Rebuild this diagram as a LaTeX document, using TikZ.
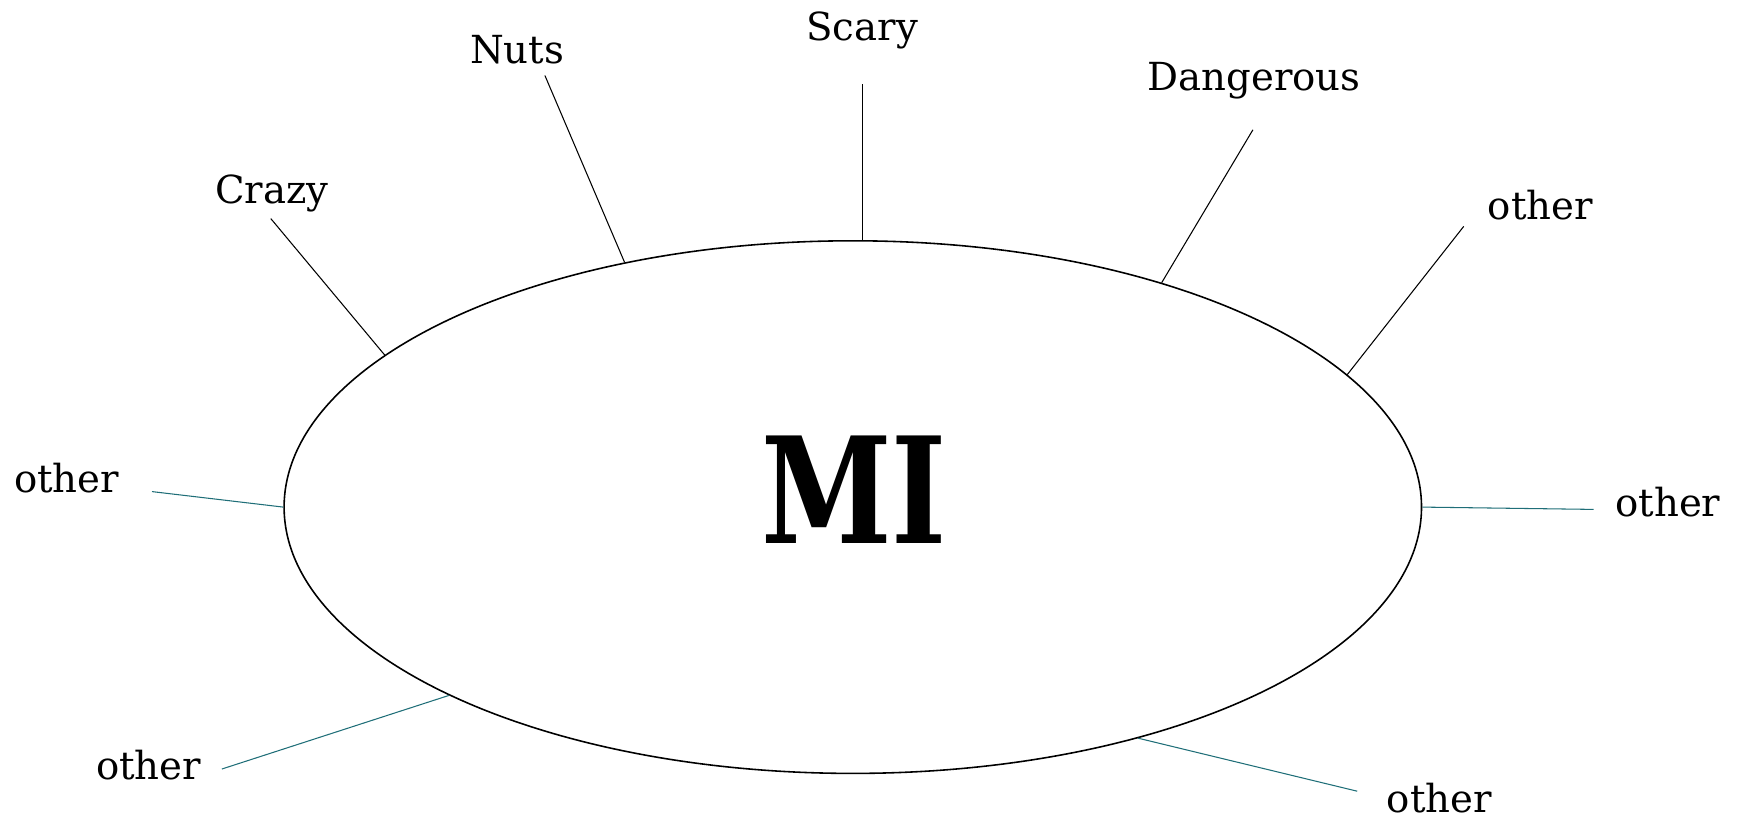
\documentclass[tikz,border=0pt]{standalone}
\usepackage{fontspec}
\usepackage{graphicx}
\setmainfont{DejaVu Serif}
\usetikzlibrary{shapes.geometric}
\definecolor{spoke}{HTML}{1F6E78}
\tikzset{
  word/.style={font=\fontsize{22}{26}\selectfont, inner sep=0pt},
  tie/.style={line width=0.6pt},
  tietwo/.style={line width=0.6pt, spoke}
}
\begin{document}
\begin{tikzpicture}[x=0.02cm,y=-0.02cm]
  \useasboundingbox (0,0) rectangle (1740,820);
  \node[ellipse, draw, line width=0.9pt, inner sep=0pt,
        minimum width=1137.4*0.02cm, minimum height=532.6*0.02cm] (mi) at (852.8,507.1) {};
  \node[inner sep=0pt] (title) at (854,490)
        {\scalebox{0.8}[1]{\fontsize{84}{90}\selectfont\bfseries MI}};
  % upper labels
  \node[word] (crazy) at (271.9,193.1) {Crazy};
  \node[word] (nuts) at (517.1,49.9) {Nuts};
  \node[word] (scary) at (862.2,30) {Scary};
  \node[word] (danger) at (1254,81) {Dangerous};
  \node[word] (othTR) at (1540.3,205.3) {other};
  % side and lower labels
  \node[word] (othL) at (66.6,478.3) {other};
  \node[word] (othR) at (1667.9,501.6) {other};
  \node[word] (othBL) at (148.7,764.6) {other};
  \node[word] (othBR) at (1439.3,797.9) {other};
  % free ends
  \coordinate (crazyEnd) at (270.8,218.6);
  \coordinate (nutsEnd) at (544.9,75.5);
  \coordinate (scaryEnd) at (862.2,84.3);
  \coordinate (dangerEnd) at (1252.9,129.8);
  \coordinate (othTREnd) at (1463.7,226.4);
  \coordinate (othLEnd) at (152,491.6);
  \coordinate (othREnd) at (1593.5,509.4);
  \coordinate (othBLEnd) at (221.9,769);
  \coordinate (othBREnd) at (1357.2,791.2);
  \draw[tie] (crazyEnd) -- (mi.162.7);
  \draw[tie] (nutsEnd) -- (mi.133.6);
  \draw[tie] (scaryEnd) -- (scaryEnd |- mi.north);
  \draw[tie] (dangerEnd) -- (mi.36.4);
  \draw[tie] (othTREnd) -- (mi.15.4);
  \draw[tietwo] (othLEnd) -- (mi.180);
  \draw[tietwo] (othREnd) -- (mi.0);
  \draw[tietwo] (othBLEnd) -- (mi.205.3);
  \draw[tietwo] (othBREnd) -- (mi.321.1);
\end{tikzpicture}
\end{document}
